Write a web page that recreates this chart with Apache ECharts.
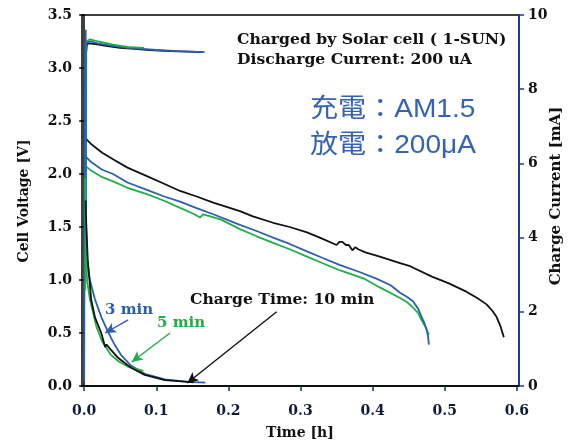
<!DOCTYPE html>
<html><head><meta charset="utf-8">
<script src="https://cdn.jsdelivr.net/npm/echarts@6/dist/echarts.min.js"></script>
<style>html,body{margin:0;padding:0;background:#fff}#c{width:570px;height:443px}</style>
</head><body><div id="c"></div>
<script>
// ---- data (time [h], value) ----
const xTicks = [0, 0.1, 0.2, 0.3, 0.4, 0.5, 0.6];
// charge voltage [V]
const chargeV10 = [[0.002,3.10],[0.004,3.23],[0.01,3.23],[0.02,3.22],[0.03,3.21],[0.05,3.19],[0.07,3.18],[0.09,3.17],[0.12,3.16],[0.165,3.15]];
const chargeV3 = [[0.0,0.05],[0.0012,3.24],[0.003,3.25],[0.01,3.25],[0.02,3.23],[0.04,3.21],[0.06,3.19],[0.08,3.18],[0.10,3.17],[0.13,3.16],[0.167,3.15]];
const chargeV5 = [[0.0015,0.9],[0.003,3.25],[0.008,3.27],[0.02,3.25],[0.04,3.22],[0.06,3.20],[0.083,3.19]];
// discharge voltage [V]
const disV10 = [[0.003,2.33],[0.01,2.28],[0.025,2.20],[0.04,2.14],[0.06,2.06],[0.087,1.98],[0.11,1.91],[0.133,1.84],[0.155,1.79],[0.179,1.73],[0.216,1.65],[0.234,1.60],[0.262,1.54],[0.285,1.50],[0.309,1.45],[0.33,1.39],[0.350,1.33],[0.354,1.36],[0.358,1.36],[0.363,1.33],[0.367,1.33],[0.372,1.28],[0.376,1.31],[0.38,1.29],[0.39,1.26],[0.41,1.22],[0.438,1.16],[0.452,1.13],[0.483,1.03],[0.505,0.97],[0.530,0.89],[0.545,0.83],[0.558,0.77],[0.566,0.71],[0.572,0.65],[0.577,0.57],[0.582,0.46]];
const disV3 = [[0.003,2.16],[0.01,2.11],[0.025,2.04],[0.04,2.00],[0.06,1.92],[0.087,1.85],[0.11,1.79],[0.133,1.74],[0.155,1.68],[0.179,1.62],[0.216,1.52],[0.24,1.46],[0.262,1.40],[0.285,1.34],[0.309,1.27],[0.33,1.21],[0.355,1.14],[0.38,1.08],[0.406,1.01],[0.425,0.95],[0.438,0.88],[0.448,0.84],[0.456,0.80],[0.463,0.73],[0.468,0.65],[0.472,0.59],[0.475,0.53],[0.477,0.46],[0.478,0.39]];
const disV5 = [[0.003,2.07],[0.01,2.03],[0.025,1.97],[0.04,1.93],[0.06,1.87],[0.087,1.81],[0.11,1.75],[0.133,1.68],[0.15,1.63],[0.161,1.59],[0.165,1.62],[0.175,1.60],[0.19,1.57],[0.216,1.48],[0.24,1.41],[0.262,1.35],[0.285,1.29],[0.309,1.22],[0.33,1.16],[0.355,1.09],[0.389,1.01],[0.41,0.93],[0.438,0.83],[0.448,0.79],[0.456,0.74],[0.463,0.69],[0.468,0.62],[0.473,0.56],[0.477,0.50],[0.478,0.48]];
// charge current [mA]
const curr10 = [[0.002,5.0],[0.003,4.3],[0.005,3.4],[0.0097,2.33],[0.015,1.85],[0.0235,1.44],[0.027,1.20],[0.029,1.05],[0.031,1.12],[0.036,1.00],[0.047,0.76],[0.065,0.49],[0.084,0.30],[0.112,0.16],[0.144,0.11],[0.152,0.10]];
const curr3 = [[0.0022,9.6],[0.0025,4.5],[0.004,3.4],[0.008,2.85],[0.015,2.33],[0.024,1.85],[0.033,1.46],[0.042,1.12],[0.051,0.84],[0.065,0.55],[0.084,0.33],[0.112,0.18],[0.144,0.11],[0.168,0.09]];
const curr5 = [[0.0012,5.6],[0.003,3.6],[0.004,2.85],[0.008,2.33],[0.017,1.60],[0.025,1.20],[0.037,0.84],[0.048,0.66],[0.061,0.52],[0.072,0.46],[0.082,0.41]];
// annotation arrows [tail, tip] in data units (V axis)
const arrow3 = [[0.061,0.624],[0.029,0.50]];
const arrow5 = [[0.119,0.50],[0.066,0.227]];
const arrow10 = [[0.267,0.70],[0.143,0.028]];

const BLACK = '#111111', BLUE = '#2d5fb0', GREEN = '#1fae48';
const SERIF = '"DejaVu Serif", "Liberation Serif", serif';

function line(name, data, color, yIdx, extra) {
  return Object.assign({
    name, type: 'line', data, yAxisIndex: yIdx, showSymbol: false, symbol: 'none',
    lineStyle: { color, width: 1.8 }, itemStyle: { color }, animation: false, z: 3
  }, extra || {});
}
function arrow(pair) {
  return { silent: true, symbol: ['none', 'arrow'], symbolSize: [8, 11], animation: false,
    label: { show: false }, lineStyle: { type: 'solid', width: 1.4 },
    data: [[{ coord: pair[0] }, { coord: pair[1] }]] };
}

const chart = echarts.init(document.getElementById('c'), null, { renderer: 'canvas' });
chart.setOption({
  backgroundColor: '#fff',
  animation: false,
  grid: { left: 82, right: 51, top: 15, bottom: 57, show: true, borderColor: '#000', borderWidth: 1.5, backgroundColor: 'transparent' },
  xAxis: {
    type: 'value', min: -0.003, max: 0.603,
    axisLine: { show: true, lineStyle: { color: '#000', width: 1.5 } },
    axisTick: { show: true, customValues: xTicks, length: 5, lineStyle: { color: '#1a2f6a', width: 1.5 } },
    axisLabel: { customValues: xTicks, margin: 18, color: '#0f1a3a', fontFamily: SERIF, fontWeight: 'bold', fontSize: 14,
      formatter: v => v.toFixed(1) },
    splitLine: { show: false }
  },
  yAxis: [{
    type: 'value', min: 0, max: 3.5, interval: 0.5, position: 'left',
    axisLine: { show: true, lineStyle: { color: '#000', width: 1.5 } },
    axisTick: { show: true, length: 5, lineStyle: { color: '#000', width: 1.5 } },
    axisLabel: { margin: 10, color: '#111', fontFamily: SERIF, fontWeight: 'bold', fontSize: 14, formatter: v => v.toFixed(1) },
    splitLine: { show: false }
  }, {
    type: 'value', min: 0, max: 10, interval: 2, position: 'right',
    axisLine: { show: true, lineStyle: { color: '#1d3f92', width: 1.8 } },
    axisTick: { show: true, length: 5, lineStyle: { color: '#1d3f92', width: 1.5 } },
    axisLabel: { margin: 9, color: '#111', fontFamily: SERIF, fontWeight: 'bold', fontSize: 14 },
    splitLine: { show: false }
  }],
  series: [
    line('chg10', chargeV10, BLACK, 0),
    line('chg3', chargeV3, BLUE, 0),
    line('chg5', chargeV5, GREEN, 0),
    line('dis5', disV5, GREEN, 0, { markLine: arrow(arrow5) }),
    line('dis3', disV3, BLUE, 0, { markLine: arrow(arrow3) }),
    line('dis10', disV10, BLACK, 0, { markLine: arrow(arrow10) }),
    line('cur3', curr3, BLUE, 1),
    line('cur5', curr5, GREEN, 1),
    line('cur10', curr10, BLACK, 1)
  ],
  graphic: [
    { type: 'text', x: 24, y: 201, rotation: Math.PI / 2, style: { text: 'Cell Voltage [V]', font: 'bold 14px ' + SERIF, fill: '#111', align: 'center', verticalAlign: 'middle' } },
    { type: 'text', x: 556, y: 196, rotation: Math.PI / 2, style: { text: 'Charge Current [mA]', font: 'bold 15px ' + SERIF, fill: '#111', align: 'center', verticalAlign: 'middle' } },
    { type: 'text', x: 300, y: 433, style: { text: 'Time [h]', font: 'bold 14px ' + SERIF, fill: '#111', align: 'center', verticalAlign: 'middle' } },
    { type: 'text', x: 237, y: 40, scaleX: 1.04, style: { text: 'Charged by Solar cell ( 1-SUN)', font: 'bold 15px ' + SERIF, fill: '#111', align: 'left', verticalAlign: 'middle' } },
    { type: 'text', x: 237, y: 60, scaleX: 1.04, style: { text: 'Discharge Current: 200 uA', font: 'bold 15px ' + SERIF, fill: '#111', align: 'left', verticalAlign: 'middle' } },
    { type: 'text', x: 310, y: 110, scaleX: 1.08, style: { text: '充電：AM1.5', font: '26px "Liberation Sans", "Noto Sans CJK TC", sans-serif', fill: '#3563b4', align: 'left', verticalAlign: 'middle' } },
    { type: 'text', x: 310, y: 146, scaleX: 1.08, style: { text: '放電：200μA', font: '26px "Liberation Sans", "Noto Sans CJK TC", sans-serif', fill: '#3563b4', align: 'left', verticalAlign: 'middle' } },
    { type: 'text', x: 105, y: 310, style: { text: '3 min', font: 'bold 15px ' + SERIF, fill: BLUE, align: 'left', verticalAlign: 'middle' } },
    { type: 'text', x: 157, y: 323, style: { text: '5 min', font: 'bold 15px ' + SERIF, fill: GREEN, align: 'left', verticalAlign: 'middle' } },
    { type: 'text', x: 190, y: 300, scaleX: 1.04, style: { text: 'Charge Time: 10 min', font: 'bold 15px ' + SERIF, fill: '#111', align: 'left', verticalAlign: 'middle' } }
  ]
});
</script></body></html>
